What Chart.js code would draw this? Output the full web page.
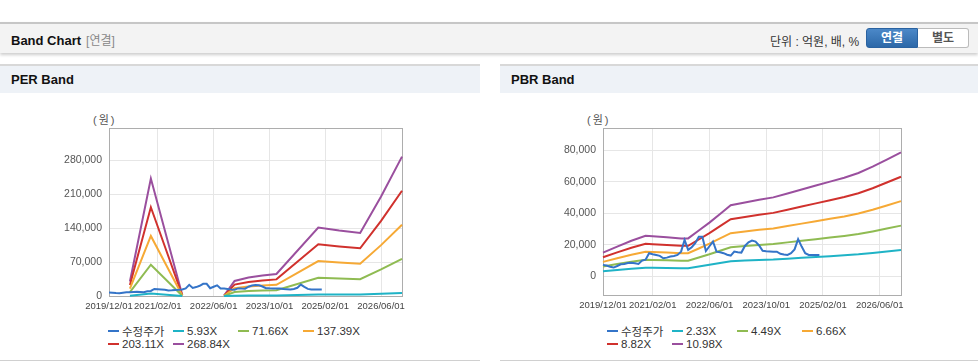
<!DOCTYPE html>
<html lang="ko">
<head>
<meta charset="utf-8">
<script src="https://cdn.jsdelivr.net/npm/chart.js@4.4.1/dist/chart.umd.min.js"></script>
<style>
    body { margin: 0; width: 978px; height: 364px; background: #fff; position: relative; overflow: hidden;
        font-family: "Liberation Sans", Arial, "Noto Sans CJK KR", sans-serif; }
    .topbar { position: absolute; left: 0; top: 22px; width: 978px; height: 29px; background: #f3f3f3;
        border-top: 2px solid #c6c6c6; box-shadow: 0 2px 3px rgba(0, 0, 0, 0.2); }
    .topbar .title { position: absolute; left: 11px; top: 7px; font-size: 13px; font-weight: bold; color: #111; }
    .topbar .sub { color: #888; font-weight: normal; font-size: 12px; margin-left: 5px; }
    .unit { position: absolute; left: 770px; top: 8px; font-size: 12px; color: #333; }
    .btns { position: absolute; left: 866px; top: 4px; display: flex; }
    .btn { width: 50px; height: 18px; line-height: 18px; text-align: center; font-size: 12px; font-weight: bold; }
    .btn.on { background: linear-gradient(#4b88c8, #2c68a8); color: #fff; border: 1px solid #2a62a0; border-radius: 3px 0 0 3px; }
    .btn.off { background: #fff; color: #555; border: 1px solid #bbb; border-left: none; border-radius: 0 3px 3px 0; }
    .panel { position: absolute; top: 64px; height: 296px; border-bottom: 1px solid #d0d0d0; }
    .panel .head { height: 27px; line-height: 27px; background: #eef2f7; border-top: 2px solid #d8d8d8;
        font-size: 13px; font-weight: bold; padding-left: 11px; color: #111; }
    canvas { position: absolute; top: 93px; }
    .unitlbl { position: absolute; top: 111px; font-size: 11px; color: #555; letter-spacing: 2px; }
    .legend { position: absolute; top: 324px; width: 270px; display: flex; flex-wrap: wrap; font-size: 11.5px; color: #333; }
    .legend .item { width: 65px; height: 13.5px; display: flex; align-items: center; white-space: nowrap; }
    .legend .mark { width: 11px; height: 2px; margin-right: 3px; flex: none; }
</style>
</head>
<body>
<div class="topbar">
    <div class="title">Band Chart<span class="sub">[연결]</span></div>
    <div class="unit">단위 : 억원, 배, %</div>
    <div class="btns"><div class="btn on">연결</div><div class="btn off">별도</div></div>
</div>

<div class="panel" style="left:0; width:480px;"><div class="head">PER Band</div></div>
<div class="panel" style="left:500px; width:478px;"><div class="head">PBR Band</div></div>

<div class="unitlbl" style="left:93px;">(원)</div>
<div class="unitlbl" style="left:587px;">(원)</div>

<canvas id="perChart" width="480" height="227" style="left:0;"></canvas>
<canvas id="pbrChart" width="478" height="227" style="left:500px;"></canvas>

<div class="legend" id="perLegend" style="left:108px;"></div>
<div class="legend" id="pbrLegend" style="left:607px;"></div>

<script>
// x axis: months counted from 2019/12
const tickMonths = [0, 14, 30, 46, 62, 78];
const tickLabels = ['2019/12/01', '2021/02/01', '2022/06/01', '2023/10/01', '2025/02/01', '2026/06/01'];

const seriesColors = ['#3474c8', '#1fb3c6', '#8fbb52', '#f6a935', '#d0312d', '#9a4f9e'];

// 수정주가 (monthly, from 2019/12)
const priceStart = '2019/12';
const priceValues = [7200, 6800, 6000, 5500, 6500, 7600, 7800, 8400, 8600, 8200, 7800, 9900, 10500, 14600,
    14000, 13500, 12900, 11400, 11800, 12500, 12800, 13500, 15600, 23000, 16700, 18400, 21000, 25100, 25000,
    16000, 19000, 22000, 15600, 15200, 14600, 13600, 13100, 15600, 15200, 15000, 19200, 21500, 22600, 22000,
    19500, 16100, 15800, 15700, 15600, 15600, 14200, 13800, 13500, 14600, 17000, 23500, 18800, 14600, 13500,
    13500, 13500, 13500];

// PER band
const perLabels = ['수정주가', '5.93X', '71.66X', '137.39X', '203.11X', '268.84X'];
const perDates = ['2020/06', '2020/12', '2021/09', '2022/03', '2022/09', '2022/12', '2023/04', '2023/08',
    '2023/12', '2024/12', '2025/06', '2025/12', '2026/06', '2026/12'];
const per5_93 = [660, 5340, 40, null, 20, 680, 840, 930, 1000, 3110, 2980, 2870, 4520, 6330];
const per71_66 = [8000, 64520, 530, null, 270, 8270, 10130, 11200, 12080, 37590, 35990, 34660, 54650, 76510];
const per137_39 = [15330, 123660, 1020, null, 510, 15840, 19420, 21460, 23150, 72050, 68990, 66430, 104760, 146660];
const per203_11 = [22670, 182830, 1510, null, 760, 23420, 28710, 31730, 34220, 106530, 101990, 98220, 154880, 216830];
const per268_84 = [30000, 242000, 2000, null, 1000, 31000, 38000, 42000, 45300, 141000, 135000, 130000, 205000, 287000];
const perYTicks = [0, 70000, 140000, 210000, 280000];

// PBR band
const pbrLabels = ['수정주가', '2.33X', '4.49X', '6.66X', '8.82X', '10.98X'];
const pbrDates = ['2019/12', '2020/04', '2020/08', '2020/12', '2021/02', '2021/06', '2021/10', '2021/12',
    '2022/03', '2022/06', '2022/09', '2022/12', '2023/04', '2023/08', '2023/12', '2024/04', '2024/08',
    '2024/12', '2025/04', '2025/08', '2025/12', '2026/04', '2026/08', '2026/12'];
const pbr2_33 = [3180, 3990, 4780, 5430, 5370, 5240, 5090, 5090, 6150, 7220, 8380, 9550, 9930, 10290, 10610,
    11140, 11670, 12200, 12730, 13260, 13900, 14750, 15700, 16660];
const pbr4_49 = [6130, 7690, 9200, 10470, 10350, 10100, 9810, 9810, 11860, 13900, 16150, 18400, 19140, 19830,
    20450, 21470, 22490, 23510, 24530, 25560, 26780, 28420, 30260, 32100];
const pbr6_66 = [9100, 11400, 13650, 15530, 15350, 14980, 14560, 14560, 17590, 20620, 23960, 27300, 28390, 29420,
    30330, 31850, 33360, 34880, 36400, 37910, 39730, 42160, 44890, 47620];
const pbr8_82 = [12050, 15100, 18070, 20560, 20320, 19840, 19280, 19280, 23300, 27310, 31730, 36150, 37590, 38960,
    40170, 42170, 44180, 46190, 48200, 50210, 52620, 55830, 59440, 63060];
const pbr10_98 = [15000, 18800, 22500, 25600, 25300, 24700, 24000, 24000, 29000, 34000, 39500, 45000, 46800, 48500,
    50000, 52500, 55000, 57500, 60000, 62500, 65500, 69500, 74000, 78500];
const pbrYTicks = [0, 20000, 40000, 60000, 80000];

const FONT = 'Liberation Sans, Arial, sans-serif';

function toMonth(s) {
    const [y, m] = s.split('/').map(Number);
    return (y - 2019) * 12 + (m - 12);
}

function toPoints(dates, values) {
    return values.map((v, i) => ({ x: toMonth(dates[i]), y: v }));
}

const priceStartMonth = toMonth(priceStart);
const pricePoints = priceValues.map((v, i) => ({ x: priceStartMonth + i, y: v }));

// plot frame drawn round the chart area
const boxBorder = {
    id: 'boxBorder',
    beforeDatasetsDraw(chart) {
        const { ctx, chartArea: a } = chart;
        ctx.save();
        ctx.strokeStyle = '#adadad';
        ctx.lineWidth = 1;
        ctx.strokeRect(Math.round(a.left) + 0.5, Math.round(a.top) + 0.5,
            Math.round(a.right - a.left), Math.round(a.bottom - a.top));
        ctx.restore();
    }
};

function buildLegend(id, labels) {
    const box = document.getElementById(id);
    labels.forEach((label, i) => {
        const item = document.createElement('div');
        item.className = 'item';
        item.innerHTML = '<span class="mark" style="background:' + seriesColors[i] + '"></span>' + label;
        box.appendChild(item);
    });
}

function makeChart(id, labels, seriesPoints, yMin, yMax, yTicks, yWidth, padRight, padTop, xHeight) {
    const datasets = seriesPoints.map((pts, i) => ({
        label: labels[i],
        data: pts,
        borderColor: seriesColors[i],
        backgroundColor: seriesColors[i],
        borderWidth: 2,
        pointRadius: 0,
        tension: 0,
        clip: false
    }));

    return new Chart(document.getElementById(id), {
        type: 'line',
        data: { datasets: datasets },
        options: {
            responsive: false,
            animation: false,
            devicePixelRatio: 1,
            layout: { padding: { left: 0, right: padRight, top: padTop, bottom: 0 } },
            plugins: { legend: { display: false }, tooltip: { enabled: false } },
            scales: {
                x: {
                    type: 'linear',
                    min: 0,
                    max: 84,
                    afterBuildTicks: axis => { axis.ticks = tickMonths.map(v => ({ value: v })); },
                    afterFit: scale => { scale.height = xHeight; },
                    grid: { color: '#e6e6e6', drawTicks: false },
                    border: { display: false },
                    ticks: {
                        autoSkip: false,
                        maxRotation: 0,
                        padding: 5,
                        color: '#444',
                        font: { family: FONT, size: 9.5 },
                        callback: v => tickLabels[tickMonths.indexOf(v)]
                    }
                },
                y: {
                    min: yMin,
                    max: yMax,
                    afterBuildTicks: axis => { axis.ticks = yTicks.map(v => ({ value: v })); },
                    afterFit: scale => { scale.width = yWidth; },
                    grid: { color: '#e6e6e6', drawTicks: false },
                    border: { display: false },
                    ticks: {
                        padding: 7,
                        color: '#555',
                        font: { family: FONT, size: 10.5 },
                        callback: v => v.toLocaleString('en-US')
                    }
                }
            }
        },
        plugins: [boxBorder]
    });
}

makeChart('perChart', perLabels, [
    pricePoints,
    toPoints(perDates, per5_93),
    toPoints(perDates, per71_66),
    toPoints(perDates, per137_39),
    toPoints(perDates, per203_11),
    toPoints(perDates, per268_84)
], 0, 346000, perYTicks, 109, 78, 35, 24);

makeChart('pbrChart', pbrLabels, [
    pricePoints,
    toPoints(pbrDates, pbr2_33),
    toPoints(pbrDates, pbr4_49),
    toPoints(pbrDates, pbr6_66),
    toPoints(pbrDates, pbr8_82),
    toPoints(pbrDates, pbr10_98)
], -11900, 94000, pbrYTicks, 103, 77, 35, 25);

buildLegend('perLegend', perLabels);
buildLegend('pbrLegend', pbrLabels);
</script>
</body>
</html>
